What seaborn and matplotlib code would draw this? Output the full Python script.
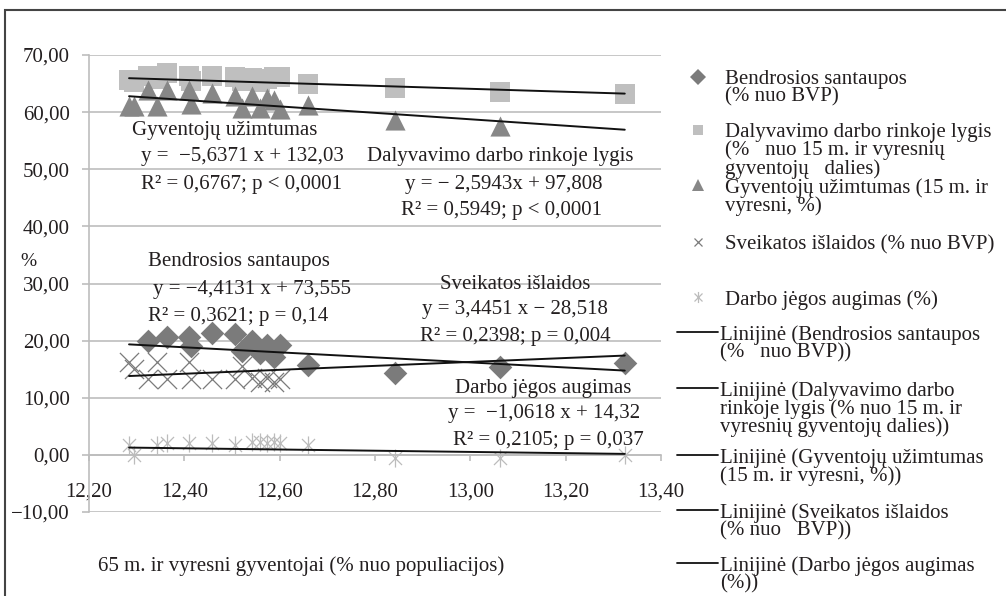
import numpy as np
import matplotlib
matplotlib.use("Agg")
import matplotlib.pyplot as plt
from matplotlib.path import Path
from matplotlib.lines import Line2D
from matplotlib.patches import Rectangle
import seaborn as sns

# ---------------- data ----------------
x_vals = [12.284, 12.294, 12.323, 12.342, 12.363, 12.409, 12.415, 12.457, 12.507,
          12.522, 12.543, 12.559, 12.574, 12.589, 12.601, 12.660, 12.841, 13.063, 13.324]
nan = np.nan
bendrosios = [nan, nan, 19.9, nan, 20.7, 20.7, 19.0, 21.4, 21.1,
              18.1, 19.9, 17.9, 19.3, 17.2, 19.3, 15.8, 14.4, 15.4, 16.1]
dalyvavimo = [65.6, 65.2, 66.3, 65.8, 66.8, 66.3, 65.5, 66.4, 66.2,
              65.4, 65.9, 65.3, 65.8, 66.1, 66.2, 65.0, 64.3, 63.6, 63.1]
uzimtumas = [61.0, 61.0, 63.8, 61.0, 63.8, 63.8, 61.5, 63.3, 62.9,
             60.7, 62.8, 60.7, 62.5, 62.1, 60.5, 61.2, 58.6, 57.5, nan]
sveikatos = [16.2, 15.0, 13.2, 16.2, 13.2, 16.2, 13.2, 13.2, 13.2,
             15.5, 13.5, 12.8, 13.5, 12.8, 13.2, nan, nan, nan, nan]
darbo = [1.8, 0.0, nan, 1.8, 2.1, 2.1, nan, 2.1, 1.8,
         nan, 2.3, 2.3, 2.1, 2.3, 2.1, 1.8, -0.5, -0.6, -0.1]

# trend lines: slope, intercept (as printed in the chart)
trend_slopes = [-4.4131, -2.5943, -5.6371, 3.4451, -1.0618]
trend_intercepts = [73.555, 97.808, 132.03, -28.518, 14.32]

x_ticks = [12.20, 12.40, 12.60, 12.80, 13.00, 13.20, 13.40]
y_ticks = [-10, 0, 10, 20, 30, 40, 50, 60, 70]

series_names = ["Bendrosios santaupos\n(% nuo BVP)",
                "Dalyvavimo darbo rinkoje lygis\n(%   nuo 15 m. ir vyresnių\ngyventojų   dalies)",
                "Gyventojų užimtumas (15 m. ir\nvyresni, %)",
                "Sveikatos išlaidos (% nuo BVP)",
                "Darbo jėgos augimas (%)"]
trend_names = ["Linijinė (Bendrosios santaupos\n(%   nuo BVP))",
               "Linijinė (Dalyvavimo darbo\nrinkoje lygis (% nuo 15 m. ir\nvyresnių gyventojų dalies))",
               "Linijinė (Gyventojų užimtumas\n(15 m. ir vyresni, %))",
               "Linijinė (Sveikatos išlaidos\n(% nuo   BVP))",
               "Linijinė (Darbo jėgos augimas\n(%))"]

annotations = [
    ("Gyventojų užimtumas", 12.484, 56.7),
    ("y =  −5,6371 x + 132,03", 12.522, 52.2),
    ("R² = 0,6767; p < 0,0001", 12.520, 47.4),
    ("Dalyvavimo darbo rinkoje lygis", 13.063, 52.2),
    ("y = − 2,5943x + 97,808", 13.071, 47.3),
    ("R² = 0,5949; p < 0,0001", 13.065, 42.7),
    ("Bendrosios santaupos", 12.515, 33.8),
    ("y = −4,4131 x + 73,555", 12.543, 28.9),
    ("R² = 0,3621; p = 0,14", 12.513, 24.3),
    ("Sveikatos išlaidos", 13.094, 29.9),
    ("y = 3,4451 x − 28,518", 13.094, 25.4),
    ("R² = 0,2398; p = 0,004", 13.094, 20.8),
    ("Darbo jėgos augimas", 13.153, 11.7),
    ("y =  −1,0618 x + 14,32", 13.155, 7.2),
    ("R² = 0,2105; p = 0,037", 13.163, 2.6),
]

# ---------------- style ----------------
sns.set_theme(style="white")
plt.rcParams["font.family"] = ["Liberation Serif", "DejaVu Serif"]
TXT = "#231f20"
GRID = "#bdbdbd"
C_DIAM = "#7b7b7b"
C_SQ = "#bfbfbf"
C_TRI = "#878787"
C_X = "#7b7b7b"
C_STAR = "#bcbcbc"
FS = 15

star_path = Path([(0, -1), (0, 1), (-0.72, -0.72), (0.72, 0.72), (-0.72, 0.72), (0.72, -0.72)],
                 [Path.MOVETO, Path.LINETO, Path.MOVETO, Path.LINETO, Path.MOVETO, Path.LINETO])

fig = plt.figure(figsize=(10.06, 5.96), dpi=100)
W, H = 1006, 596
ax = fig.add_axes([89 / W, 1 - 512 / H, (661 - 89) / W, (512 - 55) / H])

ax.set_xlim(12.2, 13.4)
ax.set_ylim(-10, 70)

# gridlines
for yv in y_ticks:
    ax.axhline(yv, color=GRID, lw=1.2, zorder=0)

x = np.array(x_vals)
sns.scatterplot(x=x, y=dalyvavimo, marker="s", s=215, color=C_SQ, linewidth=0, ax=ax, zorder=3)
sns.scatterplot(x=x, y=uzimtumas, marker="^", s=210, color=C_TRI, linewidth=0, ax=ax, zorder=4)
sns.scatterplot(x=x, y=bendrosios, marker="D", s=145, color=C_DIAM, linewidth=0, ax=ax, zorder=3)
sns.scatterplot(x=x, y=sveikatos, marker="x", s=190, color=C_X, linewidth=0.9, ax=ax, zorder=3)
sns.scatterplot(x=x, y=darbo, marker=star_path, s=170, color=C_STAR, edgecolor=C_STAR,
                linewidth=0.9, ax=ax, zorder=3)

# trend lines over the observed x range
xr = np.array([x.min(), x.max()])
for a, b in zip(trend_slopes, trend_intercepts):
    ax.plot(xr, a * xr + b, color="#111111", lw=1.4, zorder=5)

# axes styling
for s in ["top", "right"]:
    ax.spines[s].set_visible(False)
ax.spines["bottom"].set_position(("data", 0))
ax.spines["bottom"].set_color(GRID)
ax.spines["bottom"].set_linewidth(1.2)
ax.spines["left"].set_color(GRID)
ax.spines["left"].set_linewidth(1.2)
ax.set_xticks(x_ticks)
ax.set_xticklabels([f"{v:.2f}".replace(".", ",") for v in x_ticks])
ax.set_yticks(y_ticks)
ax.set_yticklabels([(f"{v:.2f}".replace(".", ",")).replace("-", "−") for v in y_ticks])
ax.tick_params(axis="x", direction="out", length=4, width=1.2, color=GRID, pad=16,
               labelsize=FS, labelcolor=TXT, bottom=True)
ax.tick_params(axis="y", direction="out", length=5, width=1.2, color=GRID, pad=9,
               labelsize=FS, labelcolor=TXT, left=True)
ax.set_xlabel("")
ax.set_ylabel("")

for txt, tx, ty in annotations:
    ax.text(tx, ty, txt, ha="center", va="center", fontsize=FS, color=TXT, zorder=6)

# axis titles
fig.text(20 / W, 1 - 262 / H, "%", fontsize=FS - 1, color=TXT, ha="left", va="center")
fig.text(301 / W, 1 - 566 / H, "65 m. ir vyresni gyventojai (% nuo populiacijos)",
         fontsize=FS, color=TXT, ha="center", va="center")

# legend (manual)
mk = [("D", C_DIAM, 8, 0), ("s", C_SQ, 7.5, 0), ("^", C_TRI, 8, 0), ("x", C_X, 6, 0.9),
      (star_path, C_STAR, 8, 0.9)]
mk_y = [77, 130, 185, 242, 297]
for (m, c, ms, lw), yy, name in zip(mk, mk_y, series_names):
    fig.add_artist(Line2D([698 / W], [1 - yy / H], marker=m, color=c, markersize=ms,
                          markeredgewidth=lw, linestyle="none", transform=fig.transFigure))
    fig.text(725 / W, 1 - (yy - 7) / H, name, fontsize=FS, color=TXT, ha="left",
             va="top", linespacing=0.9)
ln_y = [332, 388, 455, 510, 563]
for yy, name in zip(ln_y, trend_names):
    fig.add_artist(Line2D([677 / W, 718 / W], [1 - yy / H, 1 - yy / H], color="#111111",
                          lw=1.3, transform=fig.transFigure))
    fig.text(720 / W, 1 - (yy - 7) / H, name, fontsize=FS, color=TXT, ha="left",
             va="top", linespacing=0.9)

# outer frame
fig.add_artist(Rectangle((5 / W, -0.1), 1.2, 1.1 - 10 / H, transform=fig.transFigure,
                         fill=False, edgecolor="#444444", lw=1.5))

fig.savefig("out.png", dpi=100)
